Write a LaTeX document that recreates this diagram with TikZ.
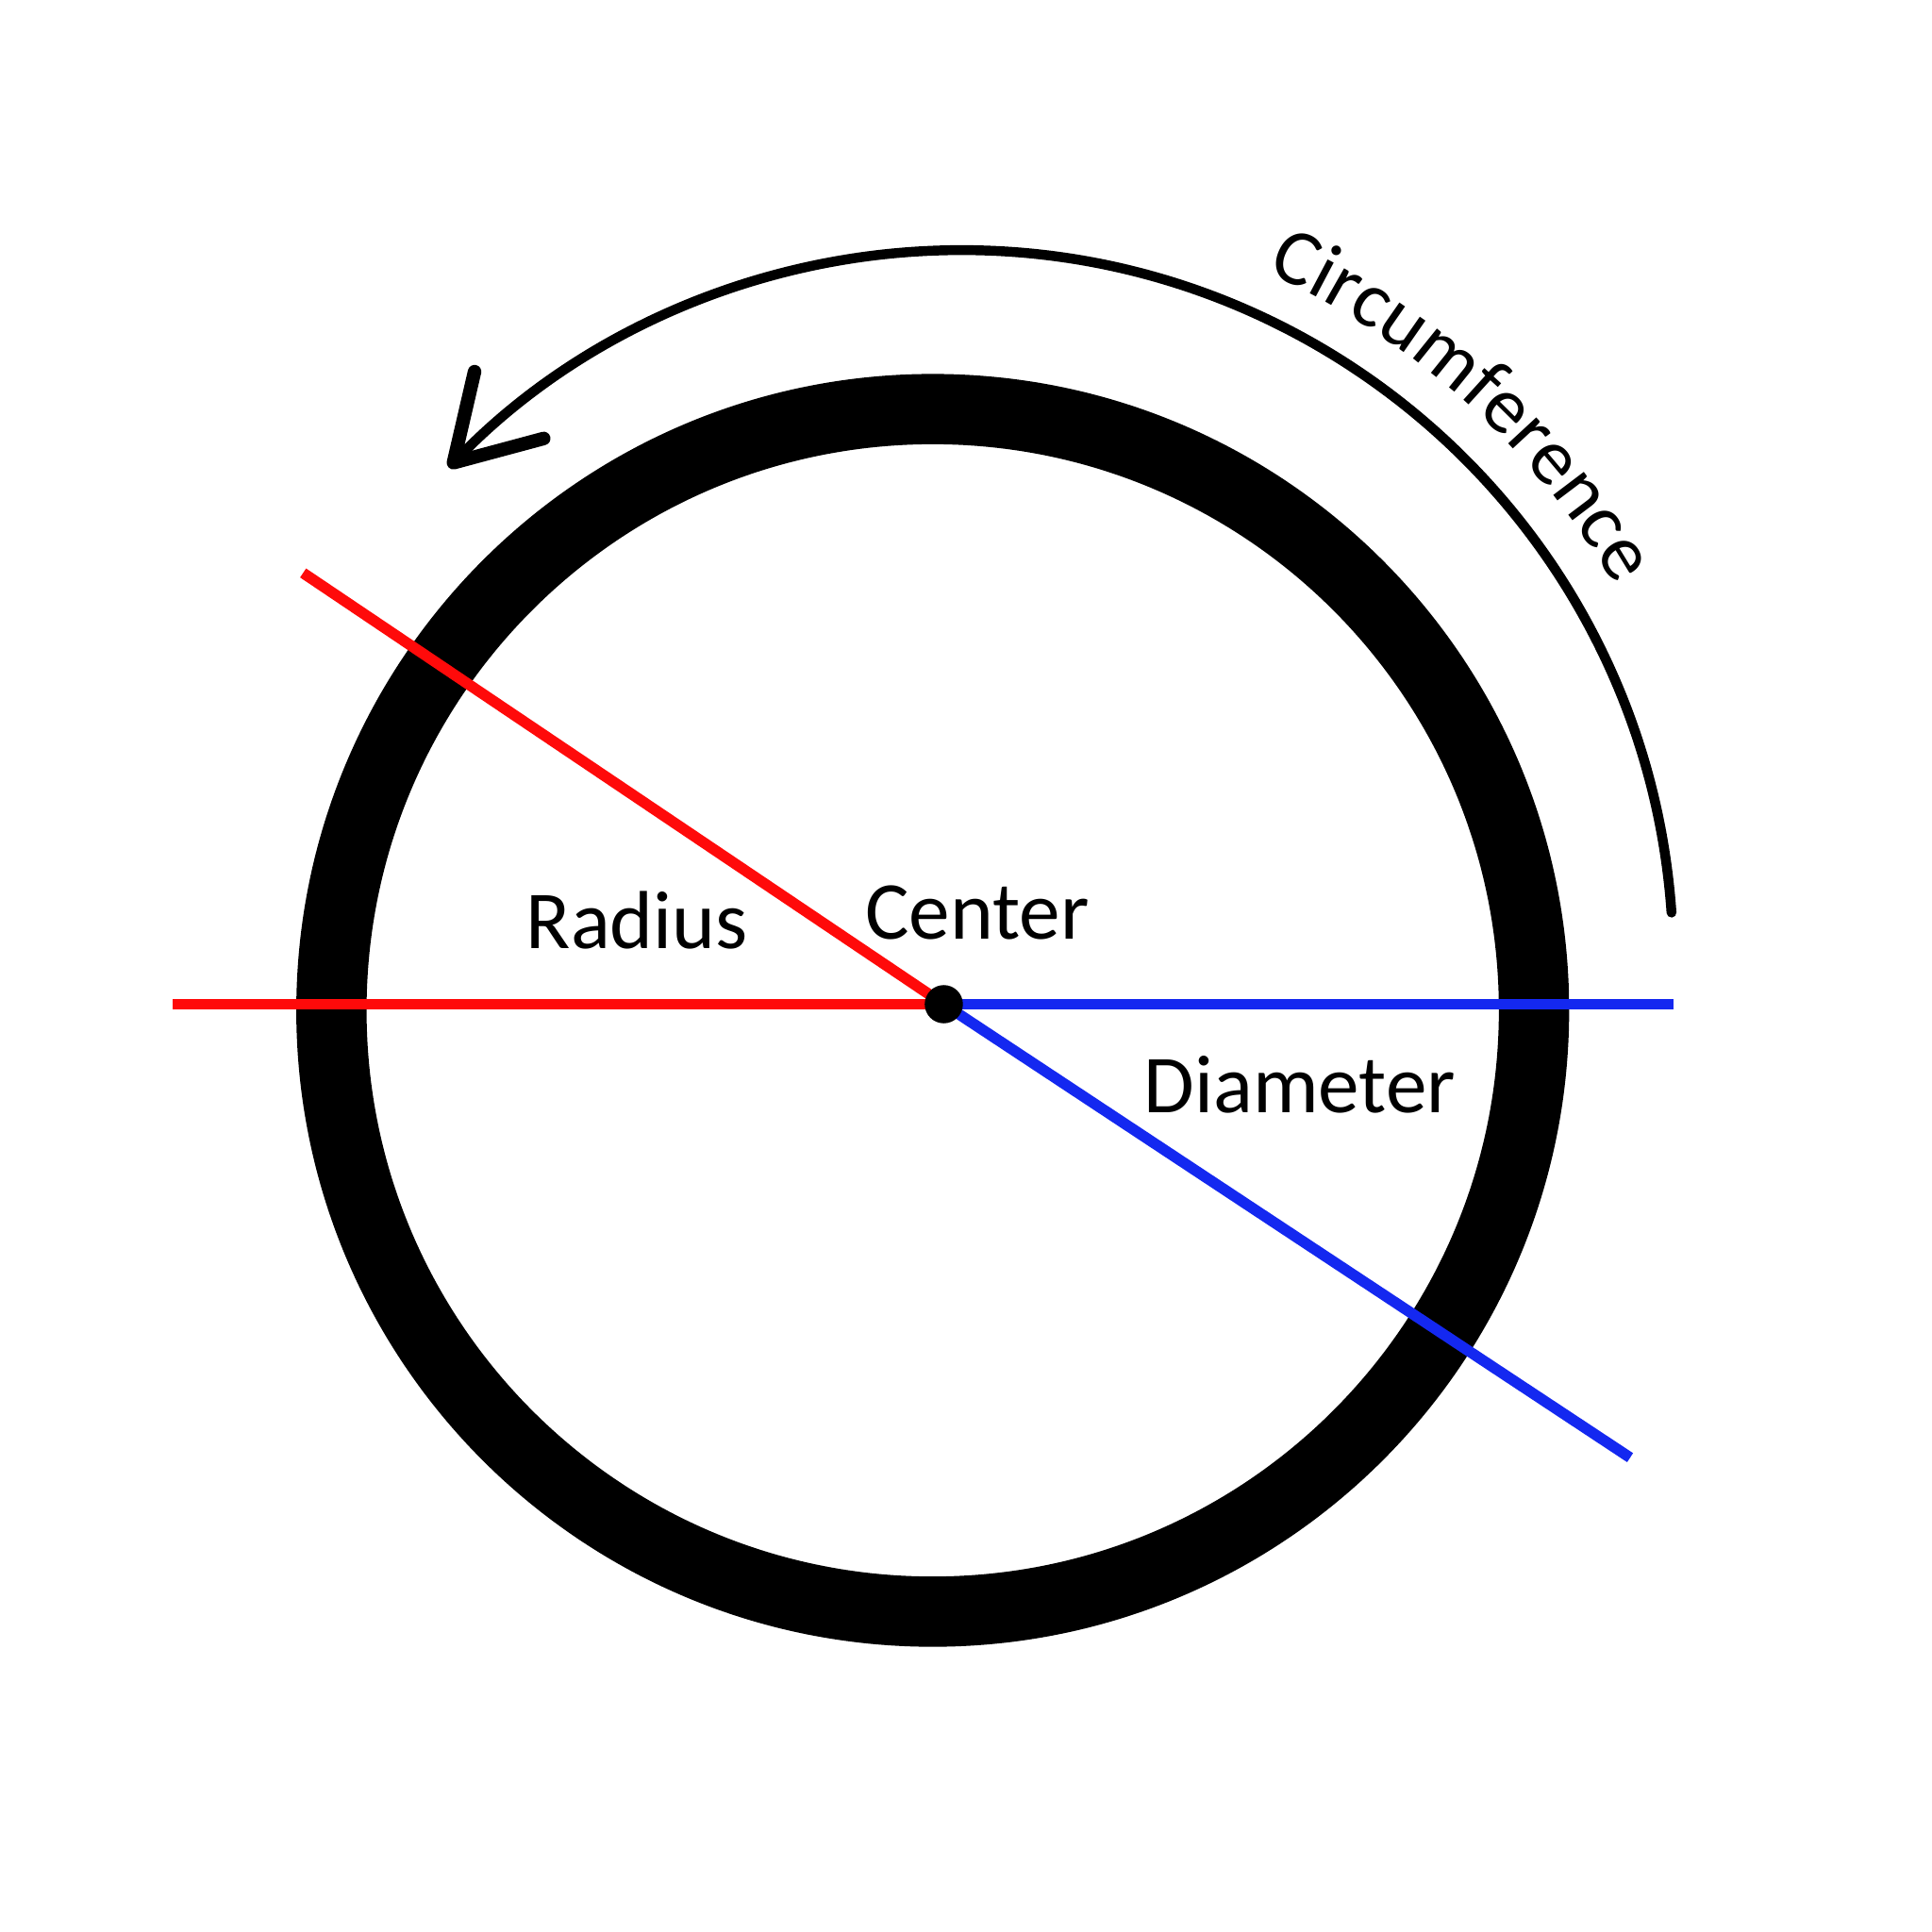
\documentclass[tikz,border=0pt]{standalone}
\usepackage{fontspec}
\setmainfont{Carlito}
\usepackage{tikz}
\usetikzlibrary{positioning,
                calc,
                decorations.text,
                arrows.meta}
\definecolor{radiusred}{HTML}{FF0A0A}
\definecolor{diamblue}{HTML}{1428F0}

\begin{document}
\begin{tikzpicture}[x=0.01cm,y=0.01cm]

\tikzset{
ringline/.style={
draw=black,
line width=0.57cm
},
radiusline/.style={
draw=radiusred,
line width=0.088cm
},
diamline/.style={
draw=diamblue,
line width=0.088cm
},
labeltext/.style={
anchor=base,
inner sep=0pt,
font=\fontsize{19}{23}\selectfont
}
}

\useasboundingbox (-757,-748) rectangle (811,820);

%--------------------------------------------------
% RING
%--------------------------------------------------

\coordinate (o) at (0,0);
\draw[ringline] (o) circle[radius=488];

%--------------------------------------------------
% RADIUS AND DIAMETER
%--------------------------------------------------

\coordinate (ctr) at (9,5);
\coordinate (redleft) at (-617,5);
\coordinate (redup) at (-511,355);
\coordinate (blueright) at (601,5);
\coordinate (bluedown) at (566,-363);

\draw[radiusline] (ctr) -- (redleft);
\draw[radiusline] (ctr) -- (redup);
\draw[diamline] (ctr) -- (blueright);
\draw[diamline] (ctr) -- (bluedown);

\node[circle,fill=black,minimum size=0.31cm,inner sep=0pt]
(dot) at (ctr) {};

%--------------------------------------------------
% LABELS
%--------------------------------------------------

\node[labeltext] (radius) at (-240,50) {Radius};
\node[labeltext] (center) at (36,58) {Center};
\node[labeltext] (diameter) at (298,-83) {Diameter};

%--------------------------------------------------
% CIRCUMFERENCE ARROW
%--------------------------------------------------

\coordinate (arcmid) at (23,39);
\draw[line width=0.08cm,line cap=round,
-{Straight Barb[length=6.5mm,width=7.8mm,line width=0.11cm,
line cap=round,line join=round]}]
($(arcmid)+(4:578)$) arc[start angle=4,end angle=136,radius=578];

\path[decorate,decoration={text along path,text align=center,
text={|\fontsize{18.5}{22}\selectfont|Circumference}}]
($(arcmid)+(68:612)$) arc[start angle=68,end angle=28,radius=612];

\end{tikzpicture}
\end{document}
